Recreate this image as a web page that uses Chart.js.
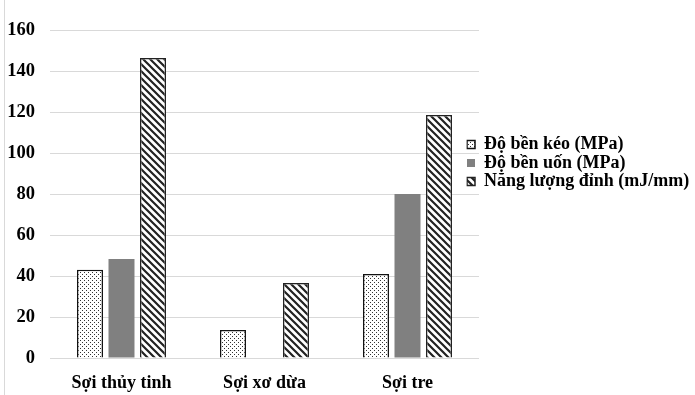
<!DOCTYPE html>
<html>
<head>
<meta charset="utf-8">
<script src="https://cdn.jsdelivr.net/npm/chart.js@4/dist/chart.umd.min.js"></script>
<style>
  html, body { margin: 0; padding: 0; background: #fff; }
  #wrap { position: relative; width: 695px; height: 395px; }
  #edge { position: absolute; left: 4px; top: 0; width: 1px; height: 395px; background: #d9d9d9; }
  canvas { position: absolute; left: 0; top: 0; }
</style>
</head>
<body>
<div id="wrap"><div id="edge"></div><canvas id="c" width="695" height="395"></canvas></div>
<script>
const categories = ['Sợi thủy tinh', 'Sợi xơ dừa', 'Sợi tre'];
const seriesNames = ['Độ bền kéo (MPa)', 'Độ bền uốn (MPa)', 'Năng lượng đỉnh (mJ/mm)'];
const tensile = [43, 13.7, 41];
const flexural = [48.3, 0, 80];
const energy = [146.3, 36.6, 118.5];
const yTicks = [0, 20, 40, 60, 80, 100, 120, 140, 160];

function dotPattern() {
  const c = document.createElement('canvas');
  c.width = 4; c.height = 4;
  const x = c.getContext('2d');
  x.fillStyle = '#fff'; x.fillRect(0, 0, 4, 4);
  x.fillStyle = '#333';
  x.fillRect(0, 0, 1, 1);
  x.fillRect(2, 2, 1, 1);
  return x.createPattern(c, 'repeat');
}
function hatchPattern() {
  const s = 7;
  const c = document.createElement('canvas');
  c.width = s; c.height = s;
  const x = c.getContext('2d');
  x.fillStyle = '#fff'; x.fillRect(0, 0, s, s);
  x.strokeStyle = '#222'; x.lineWidth = 2.2;
  x.beginPath();
  x.moveTo(-1, -1); x.lineTo(s + 1, s + 1);
  x.moveTo(-1, s - 1); x.lineTo(1, s + 1);
  x.moveTo(s - 1, -1); x.lineTo(s + 1, 1);
  x.stroke();
  return x.createPattern(c, 'repeat');
}

const FONT = "'Liberation Serif', 'Times New Roman', serif";

const legendMover = {
  id: 'legendMover',
  beforeDraw(chart) {
    const lg = chart.legend;
    if (!lg) return;
    const h = lg.height;
    lg.left = 466.5; lg.right = 695;
    lg.top = 135; lg.bottom = lg.top + h;
  }
};

new Chart(document.getElementById('c'), {
  type: 'bar',
  data: {
    labels: categories,
    datasets: [
      { label: seriesNames[0], data: tensile, backgroundColor: dotPattern(), borderColor: '#111', borderWidth: 1.5 },
      { label: seriesNames[1], data: flexural, backgroundColor: '#808080', borderColor: '#8a8a8a', borderWidth: 0 },
      { label: seriesNames[2], data: energy, backgroundColor: hatchPattern(), borderColor: '#222', borderWidth: 1.5 }
    ]
  },
  options: {
    responsive: false,
    animation: false,
    devicePixelRatio: 1,
    layout: { padding: { left: 6, right: 0, top: 30, bottom: 0 } },
    datasets: { bar: { categoryPercentage: 0.661, barPercentage: 0.825 } },
    scales: {
      x: {
        grid: { display: false },
        border: { display: false },
        ticks: { color: '#000', padding: 7, font: { family: FONT, size: 18, weight: 'bold' }, maxRotation: 0 },
        afterFit(s) { s.height = 37; }
      },
      y: {
        min: 0, max: 160,
        afterBuildTicks(s) { s.ticks = yTicks.map(v => ({ value: v })); },
        grid: { color: '#d9d9d9', lineWidth: 1, drawTicks: false },
        border: { display: false },
        ticks: { color: '#000', padding: 15, font: { family: FONT, size: 18.5, weight: 'bold' } },
        afterFit(s) { s.width = 44; }
      }
    },
    plugins: {
      tooltip: { enabled: false },
      legend: {
        position: 'right',
        align: 'start',
        maxWidth: 216,
        labels: {
          color: '#000',
          boxWidth: 8, boxHeight: 8,
          padding: 0.5,
          font: { family: FONT, size: 18, weight: 'bold' }
        }
      }
    }
  },
  plugins: [legendMover]
});
</script>
</body>
</html>
